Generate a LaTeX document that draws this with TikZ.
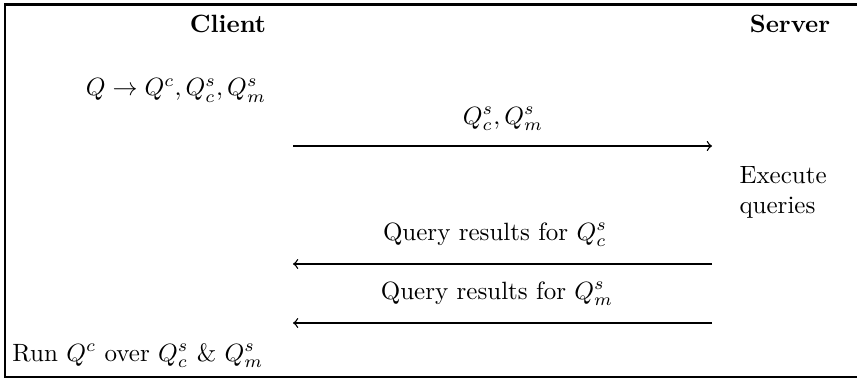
\documentclass[tikz,border=0pt]{standalone}
\usepackage{amsmath}
\begin{document}
\begin{tikzpicture}[x=0.4pt,y=-0.4pt,
  lbl/.style={inner sep=0pt,anchor=base},
  msg/.style={->,line width=0.55pt}]
\useasboundingbox (0,0) rectangle (857,379);
\draw[line width=1pt] (870,4.5) -- (5,4.5) -- (5,377) -- (870,377);
\node[lbl,font=\bfseries] (client) at (228,33) {Client};
\node[lbl,font=\bfseries] (server) at (790,33) {Server};
\node[lbl] (split) at (176,96) {$Q \rightarrow Q^c, Q^s_c, Q^s_m$};
\coordinate (c1) at (293,146);
\coordinate (s1) at (712,146);
\draw[msg] (c1) -- (s1);
\node[lbl] (m1) at (503,124) {$Q^s_c, Q^s_m$};
\node[lbl,align=left,anchor=north west] (exec) at (739,166) {Execute\\queries};
\coordinate (s2) at (712,264);
\coordinate (c2) at (293,264);
\draw[msg] (s2) -- (c2);
\node[lbl] (m2) at (495,240) {Query results for $Q^s_c$};
\coordinate (s3) at (712,323);
\coordinate (c3) at (293,323);
\draw[msg] (s3) -- (c3);
\node[lbl] (m3) at (497,299) {Query results for $Q^s_m$};
\node[lbl,anchor=base west] (run) at (12,361) {Run $Q^c$ over $Q^s_c$ \& $Q^s_m$};
\end{tikzpicture}
\end{document}
